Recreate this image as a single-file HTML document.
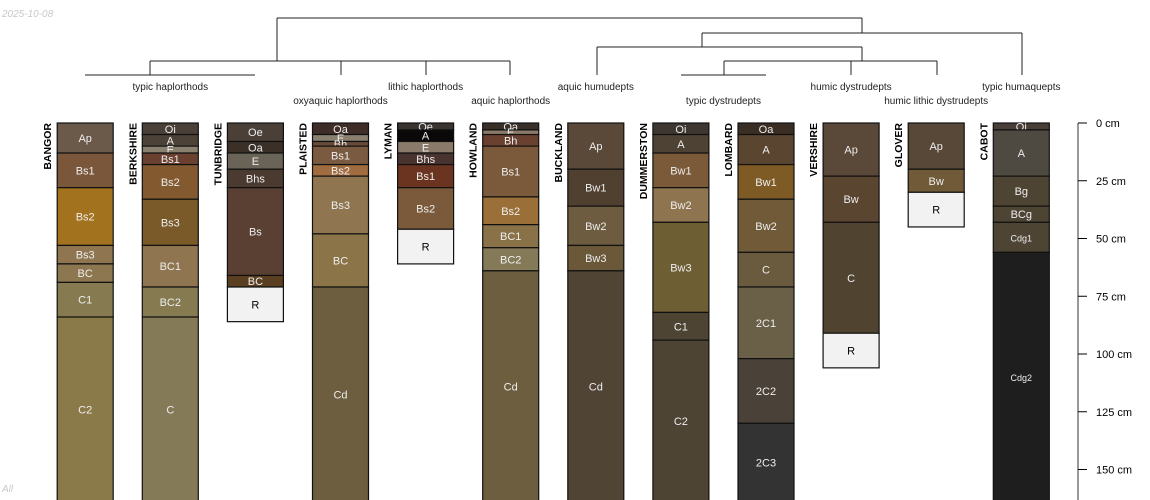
<!DOCTYPE html>
<html><head><meta charset="utf-8">
<style>
html,body{margin:0;padding:0;background:#fff;}
svg{display:block;font-family:"Liberation Sans",sans-serif;}
</style></head>
<body>
<svg id="chart" width="1150" height="500" viewBox="0 0 1150 500" xmlns="http://www.w3.org/2000/svg">
<text x="2" y="17" font-size="10" font-style="italic" fill="#c8c8c8">2025-10-08</text>
<text x="2" y="492" font-size="10" font-style="italic" fill="#c8c8c8">All</text>
<g id="dendro"></g>
<g id="profiles"></g>
<g id="axis"></g>
</svg>
<script>
const profileNames = ["BANGOR","BERKSHIRE","TUNBRIDGE","PLAISTED","LYMAN","HOWLAND","BUCKLAND","DUMMERSTON","LOMBARD","VERSHIRE","GLOVER","CABOT"];
const horizonNames = [
 ["Ap","Bs1","Bs2","Bs3","BC","C1","C2"],
 ["Oi","A","E","Bs1","Bs2","Bs3","BC1","BC2","C"],
 ["Oe","Oa","E","Bhs","Bs","BC","R"],
 ["Oa","E","Bh","Bs1","Bs2","Bs3","BC","Cd"],
 ["Oe","A","E","Bhs","Bs1","Bs2","R"],
 ["Oa","E","Bh","Bs1","Bs2","BC1","BC2","Cd"],
 ["Ap","Bw1","Bw2","Bw3","Cd"],
 ["Oi","A","Bw1","Bw2","Bw3","C1","C2"],
 ["Oa","A","Bw1","Bw2","C","2C1","2C2","2C3"],
 ["Ap","Bw","C","R"],
 ["Ap","Bw","R"],
 ["Oi","A","Bg","BCg","Cdg1","Cdg2"]
];
const horizonDepths = [
 [0,13,28,53,61,69,84,170],
 [0,5,10,13,18,33,53,71,84,170],
 [0,8,13,20,28,66,71,86],
 [0,5,8,10,18,23,48,71,170],
 [0,3,8,13,18,28,46,61],
 [0,3,5,10,32,44,54,64,170],
 [0,20,36,53,64,170],
 [0,5,13,28,43,82,94,170],
 [0,5,18,33,56,71,102,130,170],
 [0,23,43,91,106],
 [0,20,30,45],
 [0,3,23,36,43,56,170]
];
const horizonColors = [
 ["#6b5a4a","#7a573a","#a2721e","#8f7650","#8d7750","#857a50","#8a7a4a"],
 ["#4a4038","#4c4238","#8a8070","#6a4030","#835a30","#7a5a28","#8f7650","#857a50","#857a58"],
 ["#4a4038","#3a3028","#6a6458","#4a3a30","#5a4032","#5a4020","#f2f2f2"],
 ["#3f2e28","#8a8070","#6a4a38","#7a5a40","#a06c40","#8f7650","#8b7548","#6c5e3e"],
 ["#3a3430","#0a0808","#8a7a6a","#4a3430","#6a3420","#7a5a3a","#f2f2f2"],
 ["#3a302a","#8a7a6a","#6a4030","#7a5a3a","#9a7038","#8a7248","#857a58","#6c5e3e"],
 ["#5a4838","#4f4030","#6e5c40","#6a5838","#504434"],
 ["#3e3630","#4e4234","#7a5a38","#8f7450","#6e5e34","#4e4434","#4e4434"],
 ["#3a2e24","#5a4530","#7e5a24","#705a38","#6a5a3e","#6a6048","#4a4238","#333333"],
 ["#5a4838","#5a4530","#504430","#f2f2f2"],
 ["#574838","#705a38","#f2f2f2"],
 ["#4a3e38","#4e4a42","#4e4434","#4e4434","#4e4434","#1e1e1e"]
];
const depthTicks = [0,25,50,75,100,125,150];
const taxaLabels = ["typic haplorthods","oxyaquic haplorthods","lithic haplorthods","aquic haplorthods","aquic humudepts","typic dystrudepts","humic dystrudepts","humic lithic dystrudepts","typic humaquepts"];
const taxaPos = [1,3,4,5,6,7.5,9,10,11];

const NS="http://www.w3.org/2000/svg";
const x0=85.2, dx=85.1, W=56, topY=123, ppc=2.31;
const xPos=i=>x0+i*dx;
const yPos=d=>topY+d*ppc;
function mk(tag,attrs,parent){const e=document.createElementNS(NS,tag);for(const k in attrs)e.setAttribute(k,attrs[k]);parent.appendChild(e);return e;}

const P=document.getElementById('profiles');
profileNames.forEach((nm,i)=>{
  const cx=xPos(i), l=cx-W/2;
  const g=mk('g',{},P);
  
  
  const t=mk('text',{transform:`translate(${l-6},${topY}) rotate(-90)`,'text-anchor':'end','font-size':'10.5','font-weight':'bold',fill:'#000'},g);
  t.textContent=nm;
  
  
  const d=horizonDepths[i];
  horizonNames[i].forEach((h,j)=>{
    const y1=yPos(d[j]), y2=Math.min(yPos(d[j+1]),502);
    const r=mk('rect',{x:l,y:y1,width:W,height:y2-y1,fill:horizonColors[i][j],stroke:'#111','stroke-width':'1.2'},g);
    
    
    const isR=h==='R';
    const small=h.startsWith('Cdg');
    const tx=mk('text',{x:cx,y:(y1+y2)/2+4,'text-anchor':'middle','font-size':small?'9':'11',fill:isR?'#000':'#eee'},g);
    tx.textContent=h;
    
    
  });
});

const A=document.getElementById('axis');
mk('line',{x1:1078,y1:topY,x2:1078,y2:500,stroke:'#777','stroke-width':'1.5'},A);
depthTicks.forEach(v=>{
  const y=yPos(v);
  mk('line',{x1:1078,y1:y,x2:1087,y2:y,stroke:'#000','stroke-width':'1'},A);
  const t=mk('text',{x:1096,y:y+4,'font-size':'11',fill:'#000'},A);
  t.textContent=v+' cm';
  
  
});

const D=document.getElementById('dendro');
const segs=[
 [277,18,862,18],[277,18,277,61],[862,18,862,33],
 [150,61,510,61],[150,61,150,75],[85,75,255,75],[341,61,341,75],[426,61,426,75],[510,61,510,75],
 [702,33,1022,33],[1022,33,1022,75],[702,33,702,47],[597,47,862,47],[597,47,597,75],
 [862,47,862,61],[724,61,937,61],[724,61,724,75],[681,75,766,75],[851,61,851,75],[937,61,937,75]
];
segs.forEach(s=>{
  const l=mk('line',{x1:s[0],y1:s[1],x2:s[2],y2:s[3],stroke:'#222','stroke-width':'1'},D);
  
  
});
taxaLabels.forEach((lab,k)=>{
  const y=(k%2===0)?90:104;
  const t=mk('text',{x:xPos(taxaPos[k]),y:y,'text-anchor':'middle','font-size':'10',fill:'#222'},D);
  t.textContent=lab;
  
  
});
</script>
</body></html>
